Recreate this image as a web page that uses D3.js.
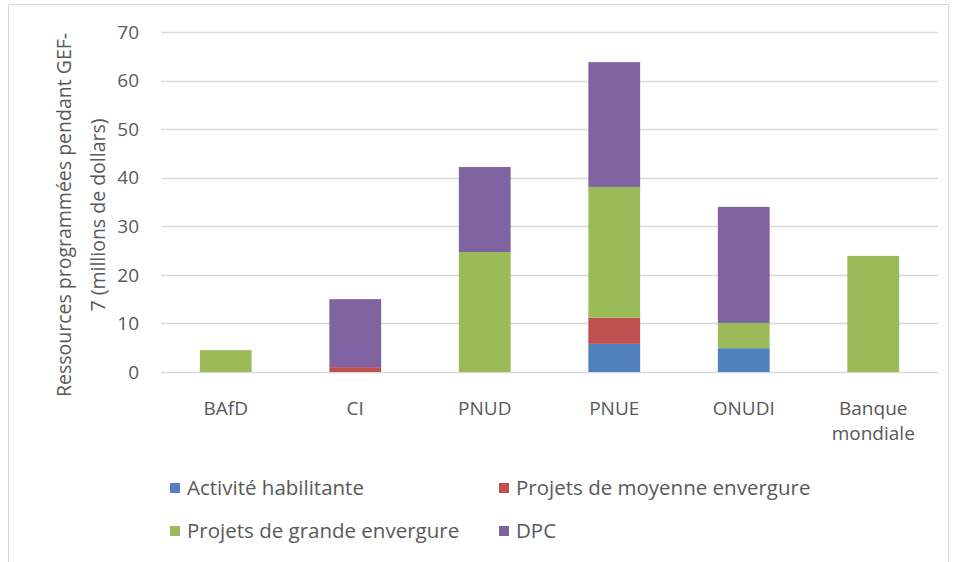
<!DOCTYPE html>
<html>
<head>
<meta charset="utf-8">
<script src="https://cdn.jsdelivr.net/npm/d3@7"></script>
<style>
  body { margin: 0; background: #fff; }
  text { font-family: "Open Sans", sans-serif; fill: #595959; }
</style>
</head>
<body>
<script>
// values (millions of dollars)
const agencies = ["BAfD", "CI", "PNUD", "PNUE", "ONUDI", "Banque mondiale"];
const seriesNames = ["Activité habilitante", "Projets de moyenne envergure", "Projets de grande envergure", "DPC"];
const activite = [0, 0, 0, 5.8, 4.9, 0];
const moyenne = [0, 1.0, 0, 5.4, 0, 0];
const grande = [4.5, 0, 24.7, 26.9, 5.2, 23.9];
const dpc = [0, 14.0, 17.5, 25.7, 23.9, 0];
const yTicks = [0, 10, 20, 30, 40, 50, 60, 70];
const colors = ["#4F81BD", "#C0504D", "#9BBB59", "#8064A2"];

let width = 956, height = 562;
let svg = d3.select('body').append('svg')
  .attr('width', width)
  .attr('height', height);

// chart frame
svg.append('rect')
  .attr('x', 8.5).attr('y', 4.5)
  .attr('width', 940).attr('height', 570)
  .attr('fill', 'none').attr('stroke', '#D9D9D9');

const margin = { top: 32, left: 161, right: 938, bottom: 372 };

let rows = agencies.map((a, i) => ({
  agency: a,
  "Activité habilitante": activite[i],
  "Projets de moyenne envergure": moyenne[i],
  "Projets de grande envergure": grande[i],
  "DPC": dpc[i]
}));
let stack = d3.stack().keys(seriesNames)(rows);

let x = d3.scaleBand().domain(agencies).range([margin.left, margin.right]).paddingInner(0.6).paddingOuter(0.3);
let y = d3.scaleLinear().domain([0, 70]).range([margin.bottom, margin.top]);

// gridlines
svg.append('g')
  .selectAll('line')
  .data(yTicks)
  .enter().append('line')
  .attr('x1', margin.left).attr('x2', margin.right)
  .attr('y1', d => Math.round(y(d)) + 0.5).attr('y2', d => Math.round(y(d)) + 0.5)
  .attr('stroke', '#D9D9D9').attr('stroke-width', 1.3);

// y tick labels
svg.append('g')
  .selectAll('text')
  .data(yTicks)
  .enter().append('text')
  .attr('x', 139).attr('y', d => y(d))
  .attr('dy', '0.35em')
  .attr('text-anchor', 'end')
  .style('font-size', '19px')
  .text(d => d);

// bars
svg.append('g')
  .selectAll('g')
  .data(stack)
  .enter().append('g')
  .attr('fill', (d, i) => colors[i])
  .selectAll('rect')
  .data(d => d)
  .enter().append('rect')
  .attr('x', d => x(d.data.agency))
  .attr('width', x.bandwidth())
  .attr('y', d => y(d[1]))
  .attr('height', d => y(d[0]) - y(d[1]));

// category labels
let cat = svg.append('g')
  .selectAll('text')
  .data(agencies)
  .enter().append('text')
  .attr('x', d => x(d) + x.bandwidth() / 2)
  .attr('y', 415)
  .attr('text-anchor', 'middle')
  .style('font-size', '19px');
cat.each(function(d) {
  let words = d === "Banque mondiale" ? ["Banque", "mondiale"] : [d];
  d3.select(this).selectAll('tspan')
    .data(words).enter().append('tspan')
    .attr('x', x(d) + x.bandwidth() / 2)
    .attr('dy', (w, i) => i === 0 ? 0 : 25)
    .text(w => w);
});

// y axis title
let title = svg.append('text')
  .attr('transform', 'translate(0,215) rotate(-90)')
  .attr('text-anchor', 'middle')
  .style('font-size', '19.5px');
title.append('tspan').attr('x', 0).attr('y', 71).text("Ressources programmées pendant GEF-");
title.append('tspan').attr('x', 0).attr('y', 105).text("7 (millions de dollars)");

// legend
const legendPos = [[170, 488], [499, 488], [170, 531], [499, 531]];
let lg = svg.append('g')
  .selectAll('g')
  .data(seriesNames)
  .enter().append('g')
  .attr('transform', (d, i) => `translate(${legendPos[i][0]},${legendPos[i][1]})`);
lg.append('rect')
  .attr('x', 0).attr('y', -5).attr('width', 10).attr('height', 10)
  .attr('fill', (d, i) => colors[i]);
lg.append('text')
  .attr('x', 17).attr('dy', '0.35em')
  .style('font-size', '20.5px')
  .text(d => d);
</script>
</body>
</html>
